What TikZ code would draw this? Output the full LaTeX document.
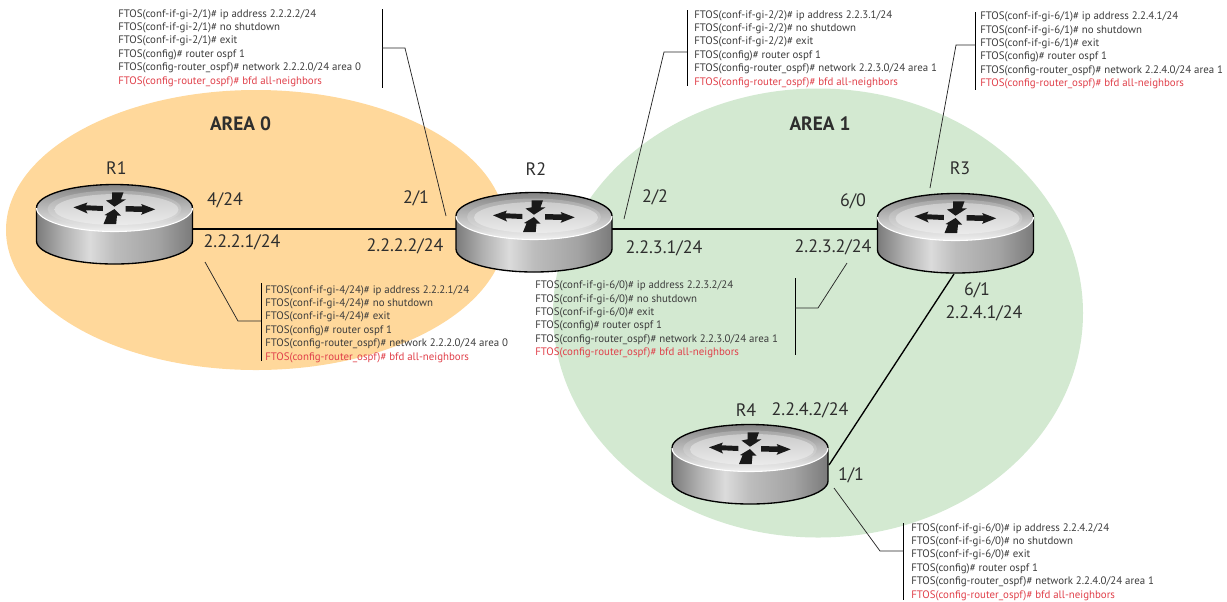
\documentclass[tikz,border=0pt]{standalone}
\usepackage{fontspec}
\setmainfont{PT Sans}
\definecolor{areaorange}{HTML}{FFD89B}
\definecolor{areagreen}{HTML}{D3E9D1}
\definecolor{cmdgray}{HTML}{3C3C3C}
\definecolor{cmdred}{HTML}{E0404A}
\definecolor{inkgray}{HTML}{2E2E2E}
\pgfdeclarehorizontalshading{routerside}{100bp}{
 color(0bp)=(black!50);
 color(25bp)=(black!52);
 color(33bp)=(black!32);
 color(42bp)=(black!14);
 color(50bp)=(black!26);
 color(64bp)=(black!36);
 color(75bp)=(black!52);
 color(100bp)=(black!52)}
\newcommand{\cmdblock}[4]{%
 FTOS(conf-if-gi-#1)\# ip address #2\\
 FTOS(conf-if-gi-#1)\# no shutdown\\
 FTOS(conf-if-gi-#1)\# exit\\
 FTOS(config)\# router ospf 1\\
 FTOS(config-router\_ospf)\# network #3 area #4\\
 \textcolor{cmdred}{FTOS(config-router\_ospf)\# bfd all-neighbors}}
\tikzset{
 x=0.75pt,y=-0.75pt,
 cmdtext/.style={anchor=west,inner sep=0pt,align=left,text=cmdgray,
   font=\fontsize{8.15}{10.05}\selectfont},
 lab/.style={inner sep=0pt,text=inkgray,font=\fontsize{13.5}{15}\selectfont},
 arealab/.style={inner sep=0pt,text=inkgray,font=\fontsize{14.5}{16}\selectfont\bfseries},
 link/.style={draw=black,line width=1.5pt},
 leader/.style={draw=black!85,line width=0.55pt},
 bar/.style={draw=black,line width=0.75pt},
 router/.pic={
  \shade[shading=routerside] (-78,0) -- (-78,33) arc[start angle=180,end angle=0,x radius=78,y radius=23] -- (78,0) -- cycle;
  \draw[black,line width=1pt] (-78,0) -- (-78,33) arc[start angle=180,end angle=0,x radius=78,y radius=23] -- (78,0);
  \shade[top color=black!48,bottom color=black!6] (0,0) ellipse [x radius=78,y radius=23.5];
  \shade[top color=black!34,bottom color=black!10] (0,1) ellipse [x radius=67,y radius=18.5];
  \shade[top color=black!20,bottom color=black!8] (2,1.5) ellipse [x radius=62,y radius=15.5];
  \draw[black,line width=1pt] (-78,0) arc[start angle=180,end angle=360,x radius=78,y radius=23.5];
  \draw[white,line width=0.8pt] (-78,0) arc[start angle=180,end angle=0,x radius=78,y radius=23.5];
  \begin{scope}[yshift=-0.75pt]
  \fill[black!90] (-41,-1.7) -- (-27,-6.5) -- (-28.5,-3.7) -- (-11.7,-3) -- (-11.7,2) -- (-28.5,1.2) -- (-27,4.5) -- cycle;
  \fill[black!90] (40.7,0.3) -- (26.7,-5) -- (28,-2.5) -- (11,-3) -- (11,2.5) -- (28,3) -- (26.7,5.8) -- cycle;
  \fill[black!90] (0,-2.3) -- (-8.5,-8.5) -- (-2.3,-9.7) -- (-2.3,-16.7) -- (9,-16.7) -- (6.5,-9.7) -- (11.5,-9.7) -- cycle;
  \fill[black!90] (0,0) -- (6.5,6.5) -- (2.5,6.5) -- (1.7,15) -- (-11,15) -- (-7.5,6.5) -- (-10,6) -- cycle;
  \end{scope}
 }
}
\begin{document}
\begin{tikzpicture}
\useasboundingbox (0,0) rectangle (1227,601);
% areas
\fill[areaorange] (256,230) ellipse [x radius=250,y radius=140];
\fill[areagreen] (818,313) ellipse [x radius=265,y radius=224.5];
% routers
\pic at (114.5,208) {router};
\pic at (534,216) {router};
\pic at (955.5,217) {router};
\pic at (750,448) {router};
% ports
\coordinate (R1e) at (192.5,229);
\coordinate (R2w) at (456,229);
\coordinate (R2e) at (612,229);
\coordinate (R3w) at (877,229);
\coordinate (R3s) at (954,274);
\coordinate (R4e) at (829,465);
\draw[link] (R1e) -- (R2w);
\draw[link] (R2e) -- (R3w);
\draw[black,line width=1pt] (R3s) -- (R4e);
% router names and interface labels
\node[lab] (nR1) at (116.5,168) {R1};
\node[lab] (nR2) at (536,169) {R2};
\node[lab] (nR3) at (960,168) {R3};
\node[lab] (nR4) at (746,410) {R4};
\node[arealab] (a0) at (240.5,124) {AREA 0};
\node[arealab] (a1) at (820,124) {AREA 1};
\node[lab] (l1) at (225,200) {4/24};
\node[lab] (l2) at (242,242) {2.2.2.1/24};
\node[lab] (l3) at (416,198) {2/1};
\node[lab] (l4) at (405,246) {2.2.2.2/24};
\node[lab] (l5) at (655,197) {2/2};
\node[lab] (l6) at (664,248) {2.2.3.1/24};
\node[lab] (l7) at (853,201) {6/0};
\node[lab] (l8) at (833,247) {2.2.3.2/24};
\node[lab] (l9) at (977,290) {6/1};
\node[lab] (l10) at (984,313) {2.2.4.1/24};
\node[lab] (l11) at (810,410) {2.2.4.2/24};
\node[lab] (l12) at (851,475) {1/1};
% command blocks
\node[cmdtext] (c21) at (118,48) {\cmdblock{2/1}{2.2.2.2/24}{2.2.2.0/24}{0}};
\node[cmdtext] (c424) at (265,324) {\cmdblock{4/24}{2.2.2.1/24}{2.2.2.0/24}{0}};
\node[cmdtext] (c22) at (694,49) {\cmdblock{2/2}{2.2.3.1/24}{2.2.3.0/24}{1}};
\node[cmdtext] (c61) at (980,50.5) {\cmdblock{6/1}{2.2.4.1/24}{2.2.4.0/24}{1}};
\node[cmdtext] (c60) at (535,319.5) {\cmdblock{6/0}{2.2.3.2/24}{2.2.3.0/24}{1}};
\node[cmdtext] (c40) at (911,562) {\cmdblock{6/0}{2.2.4.2/24}{2.2.4.0/24}{1}};
% leaders
\coordinate (b1t) at (382,9); \coordinate (b1b) at (382,88); \coordinate (b1m) at (382,48);
\coordinate (k1) at (405,48); \coordinate (e1) at (446,216);
\draw[bar] (b1t) -- (b1b); \draw[leader] (b1m) -- (k1) -- (e1);
\coordinate (b2t) at (687,10); \coordinate (b2b) at (687,86); \coordinate (b2m) at (687,52);
\coordinate (k2) at (664,52); \coordinate (e2) at (624,219);
\draw[bar] (b2t) -- (b2b); \draw[leader] (b2m) -- (k2) -- (e2);
\coordinate (b3t) at (975.5,12); \coordinate (b3b) at (975.5,90); \coordinate (b3m) at (975.5,45);
\coordinate (k3) at (956,45); \coordinate (e3) at (930,188);
\draw[bar] (b3t) -- (b3b); \draw[leader] (b3m) -- (k3) -- (e3);
\coordinate (b4t) at (261,283); \coordinate (b4b) at (261,361); \coordinate (b4m) at (261,321);
\coordinate (k4) at (238,321); \coordinate (e4) at (205,262);
\draw[bar] (b4t) -- (b4b); \draw[leader] (b4m) -- (k4) -- (e4);
\coordinate (b5t) at (795,278); \coordinate (b5b) at (795,355); \coordinate (b5m) at (795,308);
\coordinate (k5) at (818,308); \coordinate (e5) at (847,263);
\draw[bar] (b5t) -- (b5b); \draw[leader] (b5m) -- (k5) -- (e5);
\coordinate (b6t) at (903.5,523); \coordinate (b6b) at (903.5,600); \coordinate (b6m) at (903.5,551);
\coordinate (k6) at (880,551); \coordinate (e6) at (834,488);
\draw[bar] (b6t) -- (b6b); \draw[leader] (b6m) -- (k6) -- (e6);
\end{tikzpicture}
\end{document}
